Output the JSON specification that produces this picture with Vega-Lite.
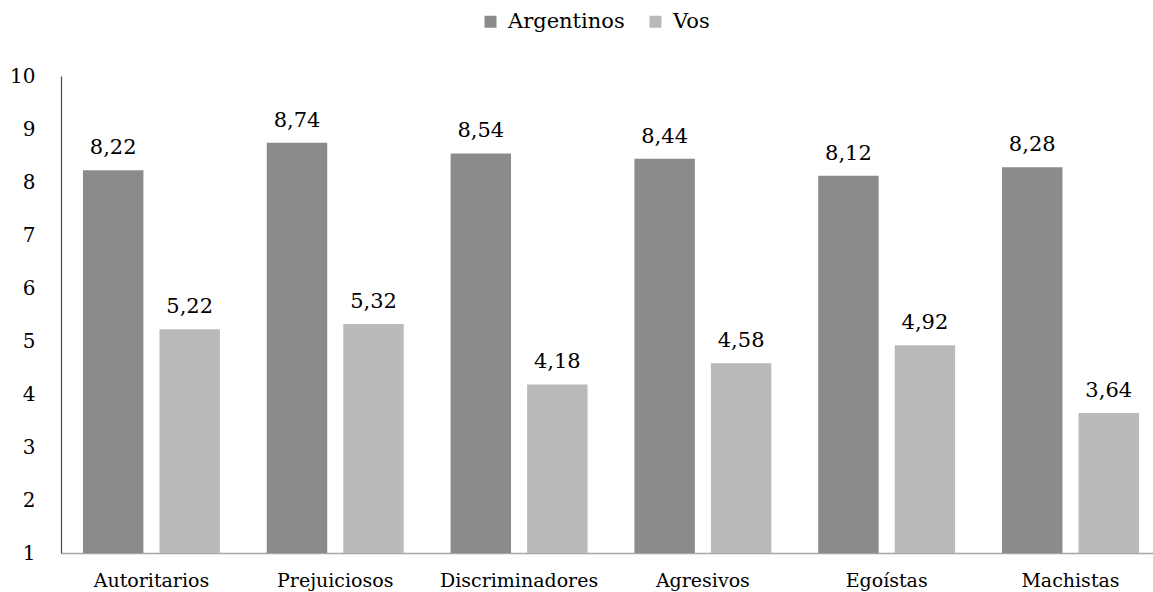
{
  "$schema": "https://vega.github.io/schema/vega-lite/v6.json",
  "width": 1092,
  "height": 477,
  "autosize": {"type": "none"},
  "padding": {"left": 61, "top": 76, "right": 0, "bottom": 39},
  "background": "white",
  "data": {
    "values": [
      {"rasgo": "Autoritarios", "grupo": "Argentinos", "valor": 8.22},
      {"rasgo": "Autoritarios", "grupo": "Vos", "valor": 5.22},
      {"rasgo": "Prejuiciosos", "grupo": "Argentinos", "valor": 8.74},
      {"rasgo": "Prejuiciosos", "grupo": "Vos", "valor": 5.32},
      {"rasgo": "Discriminadores", "grupo": "Argentinos", "valor": 8.54},
      {"rasgo": "Discriminadores", "grupo": "Vos", "valor": 4.18},
      {"rasgo": "Agresivos", "grupo": "Argentinos", "valor": 8.44},
      {"rasgo": "Agresivos", "grupo": "Vos", "valor": 4.58},
      {"rasgo": "Egoístas", "grupo": "Argentinos", "valor": 8.12},
      {"rasgo": "Egoístas", "grupo": "Vos", "valor": 4.92},
      {"rasgo": "Machistas", "grupo": "Argentinos", "valor": 8.28},
      {"rasgo": "Machistas", "grupo": "Vos", "valor": 3.64}
    ]
  },
  "encoding": {
    "x": {
      "field": "rasgo",
      "type": "nominal",
      "sort": null,
      "scale": {"paddingInner": 0.255, "paddingOuter": 0.098, "align": 0.61},
      "axis": {
        "title": null,
        "labelAngle": 0,
        "ticks": false,
        "tickSize": 0,
        "labelPadding": 18,
        "labelFont": "DejaVu Serif",
        "labelFontSize": 19,
        "labelColor": "#000000",
        "domainColor": "#a6a6a6",
        "domainWidth": 1.5,
        "grid": false
      }
    },
    "xOffset": {
      "field": "grupo",
      "type": "nominal",
      "scale": {"paddingInner": 0.21, "paddingOuter": 0}
    },
    "y": {
      "field": "valor",
      "type": "quantitative",
      "scale": {"domain": [1, 10], "nice": false, "zero": false},
      "axis": {
        "title": null,
        "values": [1, 2, 3, 4, 5, 6, 7, 8, 9, 10],
        "ticks": false,
        "tickSize": 0,
        "labelPadding": 26,
        "labelFont": "DejaVu Serif",
        "labelFontSize": 20,
        "labelColor": "#000000",
        "domainColor": "#4d4d4d",
        "domainWidth": 1.2,
        "grid": false
      }
    }
  },
  "layer": [
    {
      "mark": {"type": "bar"},
      "encoding": {
        "y2": {"datum": 1},
        "color": {
          "field": "grupo",
          "type": "nominal",
          "scale": {"domain": ["Argentinos", "Vos"], "range": ["#8b8b8b", "#bababa"]},
          "legend": {
            "title": null,
            "orient": "none",
            "legendX": 419,
            "legendY": -65,
            "direction": "horizontal",
            "symbolType": "square",
            "symbolSize": 144,
            "symbolStrokeWidth": 0,
            "labelFont": "DejaVu Serif",
            "labelFontSize": 21,
            "labelColor": "#000000",
            "labelOffset": 7,
            "columnPadding": 20
          }
        }
      }
    },
    {
      "mark": {
        "type": "text",
        "baseline": "alphabetic",
        "dy": -16,
        "font": "DejaVu Serif",
        "fontSize": 21,
        "color": "#000000"
      },
      "encoding": {
        "text": {"field": "valor", "type": "quantitative", "format": ".2f"}
      }
    }
  ],
  "config": {
    "view": {"stroke": null},
    "locale": {
      "number": {
        "decimal": ",",
        "thousands": ".",
        "grouping": [3],
        "currency": ["", ""]
      }
    }
  }
}
